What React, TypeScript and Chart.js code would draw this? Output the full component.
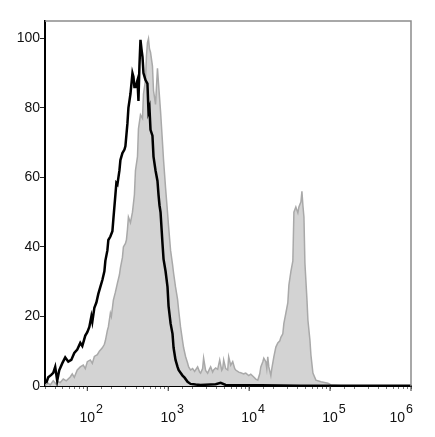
import React, { useEffect, useRef } from "react";
import { Chart, registerables } from "chart.js";

Chart.register(...registerables);

// Axis ranges / ticks
const X_MIN = 30;
const X_MAX = 1e6;
const Y_MIN = 0;
const Y_MAX = 105;
const Y_TICKS = [0, 20, 40, 60, 80, 100];
const X_DECADES = [2, 3, 4, 5, 6];

// Control (black outline) — log10 of fluorescence, and % of max
const CONTROL_LOGX = [
  1.492, 1.517, 1.554, 1.579, 1.603, 1.628, 1.653, 1.69, 1.727, 1.765,
  1.802, 1.839, 1.876, 1.913, 1.938, 1.975, 2.0, 2.025, 2.05, 2.062,
  2.087, 2.112, 2.136, 2.161, 2.186, 2.211, 2.223, 2.248, 2.26, 2.285,
  2.31, 2.322, 2.347, 2.359, 2.372, 2.397, 2.409, 2.434, 2.459, 2.471,
  2.496, 2.508, 2.533, 2.558, 2.57, 2.582, 2.595, 2.62, 2.632, 2.644,
  2.657, 2.669, 2.682, 2.694, 2.719, 2.743, 2.756, 2.768, 2.781, 2.805,
  2.818, 2.843, 2.867, 2.88, 2.892, 2.905, 2.929, 2.942, 2.967, 2.991,
  3.004, 3.029, 3.053, 3.066, 3.09, 3.115, 3.128, 3.152, 3.177, 3.202,
  3.239, 3.276, 3.338, 3.4, 3.586, 3.648, 3.71, 4.144, 4.64, 5.259,
  6.0,
];
const CONTROL_VALUES = [
  0.8, 2.5, 3.2, 3.8, 5.5, 1.5, 4.5, 6.5, 8.2, 7.0,
  7.5, 9.5, 10.5, 12.4, 11.5, 14.5, 15.5, 17, 20, 18.5,
  22.5, 24, 26.5, 28.5, 30.5, 33, 36, 39, 42, 43,
  44.5, 48, 55, 58.4, 58, 62, 65, 67, 68, 69,
  75.6, 80, 84, 90, 89, 86, 86, 88, 82, 92,
  99.6, 97, 94.7, 90, 88, 87, 79, 80, 73.7, 72,
  66, 62, 59, 55, 52, 50, 41, 36.5, 33, 28.5,
  23, 18, 15, 11, 7.5, 5.5, 4.6, 3.8, 3.0, 2.4,
  1.2, 0.6, 0.4, 0.3, 0.5, 0.9, 0.3, 0.2, 0.1, 0.1,
  0.1,
];

// Stained sample (gray filled)
const SAMPLE_LOGX = [
  1.48, 1.517, 1.542, 1.579, 1.616, 1.641, 1.665, 1.703, 1.74, 1.789,
  1.814, 1.839, 1.876, 1.913, 1.95, 1.975, 2.0, 2.037, 2.062, 2.087,
  2.124, 2.149, 2.186, 2.211, 2.223, 2.248, 2.26, 2.285, 2.297, 2.322,
  2.347, 2.372, 2.397, 2.409, 2.434, 2.446, 2.471, 2.483, 2.496, 2.508,
  2.533, 2.558, 2.582, 2.595, 2.62, 2.632, 2.657, 2.682, 2.694, 2.719,
  2.731, 2.743, 2.756, 2.768, 2.781, 2.805, 2.818, 2.843, 2.867, 2.88,
  2.905, 2.929, 2.942, 2.967, 2.991, 3.004, 3.029, 3.053, 3.066, 3.09,
  3.115, 3.128, 3.152, 3.177, 3.19, 3.214, 3.239, 3.252, 3.276, 3.301,
  3.326, 3.363, 3.388, 3.4, 3.425, 3.437, 3.462, 3.487, 3.512, 3.524,
  3.549, 3.561, 3.586, 3.611, 3.636, 3.661, 3.673, 3.685, 3.71, 3.735,
  3.747, 3.772, 3.797, 3.822, 3.834, 3.871, 3.896, 3.933, 3.958, 3.995,
  4.02, 4.057, 4.082, 4.107, 4.131, 4.144, 4.169, 4.181, 4.206, 4.218,
  4.23, 4.243, 4.268, 4.28, 4.305, 4.33, 4.354, 4.379, 4.392, 4.416,
  4.429, 4.454, 4.478, 4.491, 4.516, 4.54, 4.553, 4.577, 4.602, 4.615,
  4.64, 4.652, 4.664, 4.677, 4.689, 4.714, 4.726, 4.751, 4.763, 4.788,
  4.825, 4.887, 4.974, 5.011, 5.135, 6.0,
];
const SAMPLE_VALUES = [
  0.3, 0.8, 0.3, 1.5, 0.5, 1.2, 1.0, 2.0, 1.5, 2.6,
  3.5, 2.5, 4.6, 5.5, 6.0, 5.0, 7.0, 7.5, 6.5, 8.5,
  9.0, 10, 11, 12, 13, 16, 17, 21, 20, 24.7,
  27, 29.6, 32, 34, 37, 40, 41, 42, 45, 48.6,
  47, 50, 55, 62, 66, 74, 78, 77, 84, 88,
  95, 98.7, 99.9, 97, 96, 92, 85, 81, 91.4, 87,
  79, 70, 65, 57, 50, 46, 39, 35, 32.5, 28.5,
  25, 22, 17, 13, 11, 8.5, 6.6, 5.5, 4.6, 5.0,
  4.2, 5.5, 4.0, 3.7, 5.0, 8.0, 4.5, 3.7, 5.0, 5.5,
  4.0, 4.6, 5.2, 4.8, 7.5, 4.5, 5.0, 7.5, 5.0, 4.6,
  8.4, 6.0, 7.0, 5.0, 4.6, 4.0, 3.8, 3.5, 3.7, 3.0,
  3.4, 2.6, 2.0, 1.7, 3.5, 5.5, 7.0, 8.0, 7.0, 5.0,
  8.4, 5.5, 3.0, 5.0, 8.4, 11.2, 12.4, 13, 14, 15,
  18, 21, 24, 29, 33, 36, 50, 51.5, 49.8, 51.5,
  53, 56, 52, 48.6, 35.4, 25, 19, 13.2, 9, 3.7,
  1.7, 1.2, 0.8, 0.3, 0.1, 0.1,
];

const FONT = '"Liberation Sans", Arial, Helvetica, sans-serif';

const toPoints = (logx: number[], vals: number[]) =>
  logx.map((e, i) => ({ x: Math.pow(10, e), y: vals[i] }));

const framePlugin = {
  id: "flowFrame",
  afterDraw(chart: any) {
    const { ctx, chartArea: a, scales } = chart;
    ctx.save();
    // thin gray top and right frame
    ctx.strokeStyle = "#8c8c8c";
    ctx.lineWidth = 1.5;
    ctx.beginPath();
    ctx.moveTo(a.left, a.top);
    ctx.lineTo(a.right, a.top);
    ctx.lineTo(a.right, a.bottom);
    ctx.stroke();

    const xs = scales.x;
    for (const d of X_DECADES) {
      const px = xs.getPixelForValue(Math.pow(10, d));
      ctx.strokeStyle = "#333";
      ctx.lineWidth = 1;
      ctx.beginPath();
      ctx.moveTo(px, a.bottom);
      ctx.lineTo(px, a.bottom + 5);
      ctx.stroke();

      ctx.font = `14px ${FONT}`;
      const wb = ctx.measureText("10").width;
      ctx.font = `12.5px ${FONT}`;
      const we = ctx.measureText(String(d)).width;
      let left = px - wb / 2;
      const limit = 413;
      if (left + wb + 1 + we > limit) left = limit - wb - 1 - we;
      ctx.fillStyle = "#111";
      ctx.textAlign = "left";
      ctx.textBaseline = "alphabetic";
      ctx.font = `14px ${FONT}`;
      ctx.fillText("10", left, a.bottom + 36);
      ctx.font = `12.5px ${FONT}`;
      ctx.fillText(String(d), left + wb + 1, a.bottom + 27);
    }
    ctx.restore();
  },
};

export default function App() {
  const ref = useRef<HTMLCanvasElement | null>(null);

  useEffect(() => {
    if (!ref.current) return;
    const chart = new Chart(ref.current, {
      type: "line",
      data: {
        datasets: [
          {
            label: "Control",
            data: toPoints(CONTROL_LOGX, CONTROL_VALUES),
            borderColor: "#000000",
            borderWidth: 2.5,
            pointRadius: 0,
            fill: false,
            tension: 0,
          },
          {
            label: "Sample",
            data: toPoints(SAMPLE_LOGX, SAMPLE_VALUES),
            borderColor: "#a9a9a9",
            backgroundColor: "#d3d3d3",
            borderWidth: 1.5,
            pointRadius: 0,
            fill: "origin",
            tension: 0,
          },
        ],
      },
      options: {
        animation: false,
        responsive: false,
        layout: { padding: { top: 21, right: 24, left: 0, bottom: 0 } },
        plugins: {
          legend: { display: false },
          tooltip: { enabled: false },
        },
        scales: {
          x: {
            type: "logarithmic",
            min: X_MIN,
            max: X_MAX,
            afterFit: (s: any) => {
              s.height = 51;
            },
            grid: {
              drawOnChartArea: false,
              drawTicks: true,
              tickLength: 3,
              tickColor: "#777",
            },
            border: { display: true, color: "#000", width: 2 },
            ticks: { display: false },
          },
          y: {
            type: "linear",
            min: Y_MIN,
            max: Y_MAX,
            afterBuildTicks: (ax: any) => {
              ax.ticks = Y_TICKS.map((v) => ({ value: v }));
            },
            afterFit: (s: any) => {
              s.width = 45;
            },
            grid: {
              drawOnChartArea: false,
              drawTicks: true,
              tickLength: 5,
              tickColor: "#222",
            },
            border: { display: true, color: "#000", width: 2 },
            ticks: {
              padding: 0,
              color: "#111",
              font: { family: FONT, size: 14 },
            },
          },
        },
      },
      plugins: [framePlugin],
    } as any);
    return () => chart.destroy();
  }, []);

  return (
    <div style={{ position: "fixed", left: 0, top: 0, width: 435, height: 437, background: "#fff" }}>
      <canvas ref={ref} width={435} height={437} style={{ display: "block" }} />
    </div>
  );
}
